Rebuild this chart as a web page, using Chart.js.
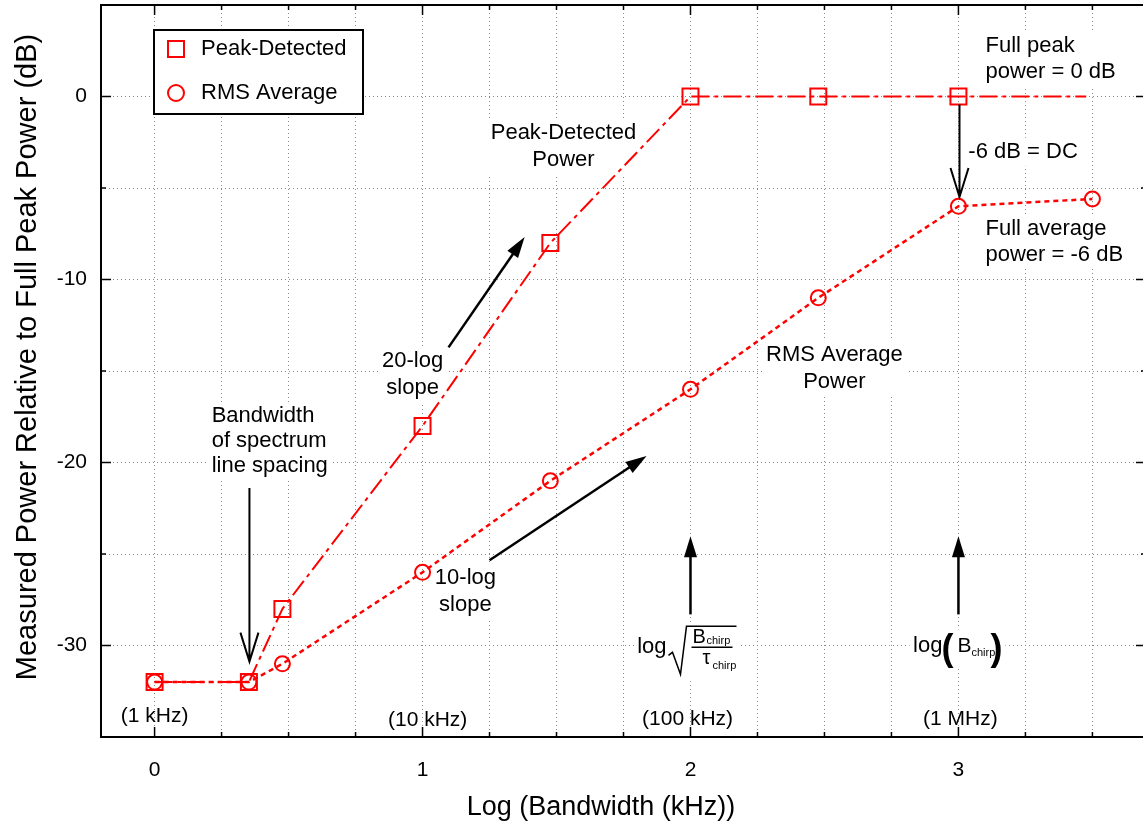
<!DOCTYPE html>
<html>
<head>
<meta charset="utf-8">
<script src="https://cdn.jsdelivr.net/npm/chart.js@4.4.1/dist/chart.umd.min.js"></script>
<style>
  html, body { margin:0; padding:0; background:#fff; overflow:hidden; }
  #wrap { width:1146px; height:824px; }
</style>
</head>
<body>
<div id="wrap"><canvas id="chart"></canvas></div>
<script>
// x = log10(bandwidth in kHz), y = dB relative to full peak power
const peakX = [0, 0.352, 0.477, 1, 1.477, 2, 2.477, 3, 3.477];
const peakY = [-32, -32, -28, -18, -8, 0, 0, 0, 0];
const peakMarks = [1, 1, 1, 1, 1, 1, 1, 1, 0];
const rmsX = [0, 0.352, 0.477, 1, 1.477, 2, 2.477, 3, 3.5];
const rmsY = [-32, -32, -31, -26, -21, -16, -11, -6, -5.6];

const xTicks = [0, 0.25, 0.5, 0.75, 1, 1.25, 1.5, 1.75, 2, 2.25, 2.5, 2.75, 3, 3.25, 3.5];
const xMajor = [0, 1, 2, 3];
const yTicks = [-35, -30, -25, -20, -15, -10, -5, 0, 5];
const yMajor = [-30, -20, -10, 0];

const xTitle = 'Log (Bandwidth (kHz))';
const yTitle = 'Measured Power Relative to Full Peak Power (dB)';

// annotation text, anchored in data units
const notes = [
  { x: 1.526, y: -1.97,  lines: ['Peak-Detected', 'Power'], align: 'center', lh: 27 },
  { x: 0.963, y: -14.43, lines: ['20-log', 'slope'], align: 'center', lh: 27 },
  { x: 0.213, y: -17.44, lines: ['Bandwidth', 'of spectrum', 'line spacing'], align: 'left', lh: 25 },
  { x: 2.537, y: -14.10, lines: ['RMS Average', 'Power'], align: 'center', lh: 27 },
  { x: 1.160, y: -26.33, lines: ['10-log', 'slope'], align: 'center', lh: 27 },
  { x: 3.101, y: 2.74,   lines: ['Full peak', 'power = 0 dB'], align: 'left', lh: 26 },
  { x: 3.037, y: -3.02,  lines: ['-6 dB = DC'], align: 'left', lh: 26 },
  { x: 3.101, y: -7.24,  lines: ['Full average', 'power = -6 dB'], align: 'left', lh: 26 }
];
const freqLabels = ['(1 kHz)', '(10 kHz)', '(100 kHz)', '(1 MHz)'];
const freqX = [0, 1.019, 1.989, 3.007];
const freqY = [-33.85, -34.06, -34.01, -34.01];

const arrows = [
  { from: [1.097, -13.71], to: [1.381, -7.68], head: 'solid' },
  { from: [1.250, -25.34], to: [1.836, -19.64], head: 'solid' },
  { from: [0.354, -21.39], to: [0.354, -30.88], head: 'open' },
  { from: [3.004, -0.44],  to: [3.004, -5.49],  head: 'open' },
  { from: [2, -28.3], to: [2, -24.03], head: 'solid' },
  { from: [3, -28.3], to: [3, -24.03], head: 'solid' }
];
const formulaY = -30.1;

const RED = '#ff0000';
const FONT = '"Liberation Sans", Arial, Helvetica, sans-serif';

function arrow(ctx, x1, y1, x2, y2, head) {
  const a = Math.atan2(y2 - y1, x2 - x1);
  ctx.save();
  ctx.strokeStyle = '#000';
  ctx.fillStyle = '#000';
  ctx.lineWidth = head === 'open' ? 2 : 2.5;
  ctx.setLineDash([]);
  if (head === 'open') {
    const L = 29, W = 9;
    ctx.beginPath();
    ctx.moveTo(x1, y1); ctx.lineTo(x2, y2);
    ctx.moveTo(x2 - L * Math.cos(a) + W * Math.sin(a), y2 - L * Math.sin(a) - W * Math.cos(a));
    ctx.lineTo(x2, y2);
    ctx.lineTo(x2 - L * Math.cos(a) - W * Math.sin(a), y2 - L * Math.sin(a) + W * Math.cos(a));
    ctx.stroke();
  } else {
    const L = 21, W = 6.5;
    ctx.beginPath();
    ctx.moveTo(x1, y1);
    ctx.lineTo(x2 - (L - 2) * Math.cos(a), y2 - (L - 2) * Math.sin(a));
    ctx.stroke();
    ctx.beginPath();
    ctx.moveTo(x2, y2);
    ctx.lineTo(x2 - L * Math.cos(a) + W * Math.sin(a), y2 - L * Math.sin(a) - W * Math.cos(a));
    ctx.lineTo(x2 - L * Math.cos(a) - W * Math.sin(a), y2 - L * Math.sin(a) + W * Math.cos(a));
    ctx.closePath();
    ctx.fill();
  }
  ctx.restore();
}

function noteBox(ctx, n, x, y) {
  const w = Math.max(...n.lines.map(l => ctx.measureText(l).width));
  const left = n.align === 'left' ? x : x - w / 2;
  return [left - 4, y - n.lh / 2 - 1, w + 8, n.lh * n.lines.length + 2];
}

const framePlugin = {
  id: 'frame',
  afterDatasetsDraw(chart) {
    const { ctx, chartArea: ca, scales } = chart;
    const xs = scales.x, ys = scales.y;
    ctx.save();
    ctx.setLineDash([]);
    ctx.strokeStyle = '#000';
    ctx.lineWidth = 1.5;
    ctx.beginPath();
    xTicks.forEach(v => {
      const p = xs.getPixelForValue(v), len = xMajor.includes(v) ? 10 : 5;
      ctx.moveTo(p, ca.bottom); ctx.lineTo(p, ca.bottom - len);
      ctx.moveTo(p, ca.top); ctx.lineTo(p, ca.top + len);
    });
    yTicks.forEach(v => {
      const p = ys.getPixelForValue(v), len = yMajor.includes(v) ? 10 : 5;
      ctx.moveTo(ca.left, p); ctx.lineTo(ca.left + len, p);
      ctx.moveTo(ca.right, p); ctx.lineTo(ca.right - len, p);
    });
    ctx.stroke();
    ctx.lineWidth = 2;
    ctx.strokeRect(ca.left, ca.top, ca.right - ca.left, ca.bottom - ca.top);

    // axis titles
    ctx.fillStyle = '#000';
    ctx.font = '27px ' + FONT;
    ctx.textAlign = 'center';
    ctx.textBaseline = 'alphabetic';
    ctx.fillText(xTitle, 601, 815);
    ctx.save();
    ctx.translate(36, 357);
    ctx.rotate(-Math.PI / 2);
    ctx.font = '29px ' + FONT;
    ctx.fillText(yTitle, 0, 0);
    ctx.restore();
    ctx.restore();
  }
};

const notesPlugin = {
  id: 'notes',
  beforeDatasetsDraw(chart) {
    // white backing boxes sit over the grid but under the data lines
    const { ctx, scales } = chart;
    const px = v => scales.x.getPixelForValue(v);
    const py = v => scales.y.getPixelForValue(v);
    ctx.save();
    ctx.font = '22px ' + FONT;
    ctx.fillStyle = '#fff';
    notes.forEach(n => ctx.fillRect(...noteBox(ctx, n, px(n.x), py(n.y))));
    const ay = py(formulaY);
    ctx.fillRect(px(2) - 56, ay - 24, 106, 58);
    ctx.fillRect(px(3) - 49, ay - 18, 96, 38);
    ctx.restore();
  },
  afterDraw(chart) {
    const { ctx, chartArea: ca, scales } = chart;
    const px = v => scales.x.getPixelForValue(v);
    const py = v => scales.y.getPixelForValue(v);
    ctx.save();
    ctx.setLineDash([]);

    // frequency labels (no background)
    ctx.font = '21px ' + FONT;
    ctx.fillStyle = '#000';
    ctx.textAlign = 'center';
    ctx.textBaseline = 'middle';
    freqLabels.forEach((t, i) => ctx.fillText(t, px(freqX[i]), py(freqY[i])));

    ctx.font = '22px ' + FONT;
    notes.forEach(n => {
      const x = px(n.x), y = py(n.y);
      ctx.textAlign = n.align;
      n.lines.forEach((l, i) => ctx.fillText(l, x, y + i * n.lh));
    });

    arrows.forEach(a => arrow(ctx, px(a.from[0]), py(a.from[1]), px(a.to[0]), py(a.to[1]), a.head));

    // log sqrt(Bchirp / tau chirp) at x = 2
    let ax = px(2);
    const ay = py(formulaY);
    ctx.fillStyle = '#000';
    ctx.textBaseline = 'alphabetic';
    ctx.textAlign = 'right';
    ctx.font = '22px ' + FONT;
    ctx.fillText('log', ax - 24, ay + 6);
    ctx.strokeStyle = '#000';
    ctx.lineWidth = 1.5;
    ctx.beginPath();
    ctx.moveTo(ax - 22, ay + 8);
    ctx.lineTo(ax - 18, ay + 5);
    ctx.lineTo(ax - 10, ay + 27);
    ctx.lineTo(ax - 4, ay - 21);
    ctx.lineTo(ax + 46, ay - 21);
    ctx.moveTo(ax + 1, ay);
    ctx.lineTo(ax + 42, ay);
    ctx.stroke();
    ctx.textAlign = 'left';
    ctx.font = '20px ' + FONT;
    ctx.fillText('B', ax + 2, ay - 4);
    ctx.fillText('\u03C4', ax + 12, ay + 17);
    ctx.font = '11px ' + FONT;
    ctx.fillText('chirp', ax + 16, ay - 3);
    ctx.fillText('chirp', ax + 22, ay + 22);

    // log(Bchirp) at x = 3
    ax = px(3);
    ctx.font = '22px ' + FONT;
    ctx.textAlign = 'right';
    ctx.fillText('log', ax - 16, ay + 5);
    ctx.textAlign = 'left';
    ctx.font = 'bold 36px ' + FONT;
    ctx.fillText('(', ax - 17, ay + 13);
    ctx.fillText(')', ax + 32, ay + 13);
    ctx.font = '21px ' + FONT;
    ctx.fillText('B', ax - 1, ay + 5);
    ctx.font = '11px ' + FONT;
    ctx.fillText('chirp', ax + 13, ay + 9);

    // legend
    const lx = ca.left + 53, ly = ca.top + 25, lw = 209, lh = 84;
    ctx.fillStyle = '#fff';
    ctx.fillRect(lx, ly, lw, lh);
    ctx.strokeStyle = '#000';
    ctx.lineWidth = 2;
    ctx.strokeRect(lx, ly, lw, lh);
    chart.data.datasets.forEach((ds, i) => {
      const cy = ly + 19 + i * 44, cx = lx + 22;
      ctx.strokeStyle = RED;
      ctx.lineWidth = 2;
      ctx.beginPath();
      if (ds.pointStyle === 'rect') ctx.rect(cx - 8, cy - 8, 16, 16);
      else ctx.arc(cx, cy, 8, 0, Math.PI * 2);
      ctx.stroke();
      ctx.fillStyle = '#000';
      ctx.font = '22px ' + FONT;
      ctx.textAlign = 'left';
      ctx.textBaseline = 'middle';
      ctx.fillText(ds.label, lx + 47, cy);
    });
    ctx.restore();
  }
};

const noPad = s => { s.paddingTop = 0; s.paddingBottom = 0; s.paddingLeft = 0; s.paddingRight = 0; };

new Chart(document.getElementById('chart'), {
  type: 'scatter',
  data: {
    datasets: [
      {
        label: 'Peak-Detected',
        data: peakX.map((x, i) => ({ x, y: peakY[i] })),
        showLine: true,
        borderColor: RED,
        borderWidth: 2,
        borderDash: [18, 5, 4, 5],
        pointStyle: 'rect',
        pointRadius: peakMarks.map(m => m ? 11.3 : 0),
        pointBorderColor: RED,
        pointBackgroundColor: 'rgba(0,0,0,0)',
        pointBorderWidth: 2
      },
      {
        label: 'RMS Average',
        data: rmsX.map((x, i) => ({ x, y: rmsY[i] })),
        showLine: true,
        borderColor: RED,
        borderWidth: 2.5,
        borderDash: [5, 4],
        pointStyle: 'circle',
        pointRadius: 7.5,
        pointBorderColor: RED,
        pointBackgroundColor: 'rgba(0,0,0,0)',
        pointBorderWidth: 2
      }
    ]
  },
  options: {
    animation: false,
    responsive: true,
    maintainAspectRatio: false,
    layout: { autoPadding: false, padding: { top: 5, left: 0, right: 0, bottom: 0 } },
    plugins: { legend: { display: false }, tooltip: { enabled: false } },
    scales: {
      x: {
        type: 'linear', min: -0.2, max: 3.7,
        afterBuildTicks: s => { s.ticks = xTicks.map(v => ({ value: v })); },
        afterFit: s => { s.height = 87; noPad(s); },
        grid: { color: '#8a8a8a', lineWidth: 1, drawTicks: false },
        border: { display: false, dash: [1, 3] },
        ticks: {
          padding: 21, color: '#000', autoSkip: false, maxRotation: 0,
          font: { family: FONT, size: 21 },
          callback: v => xMajor.includes(v) ? String(v) : ''
        }
      },
      y: {
        type: 'linear', min: -35, max: 5,
        afterBuildTicks: s => { s.ticks = yTicks.map(v => ({ value: v })); },
        afterFit: s => { s.width = 101; noPad(s); },
        grid: { color: '#8a8a8a', lineWidth: 1, drawTicks: false },
        border: { display: false, dash: [1, 3] },
        ticks: {
          padding: 14, color: '#000', autoSkip: false,
          font: { family: FONT, size: 21 },
          callback: v => yMajor.includes(v) ? String(v) : ''
        }
      }
    }
  },
  plugins: [framePlugin, notesPlugin]
});
</script>
</body>
</html>
